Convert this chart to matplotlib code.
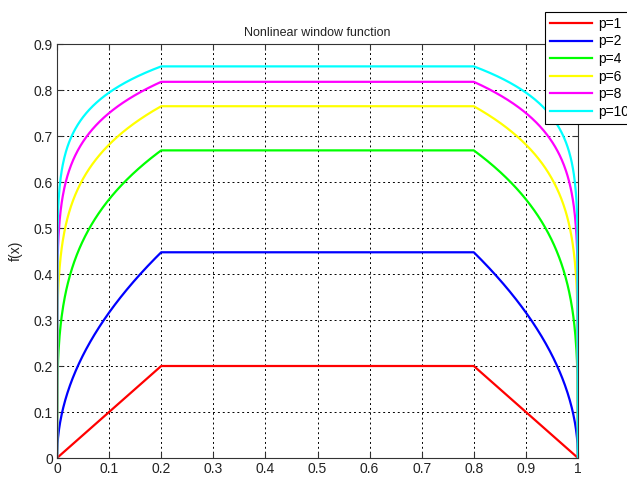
import numpy as np
import matplotlib
matplotlib.use("Agg")
import matplotlib.pyplot as plt

# Window shape parameters
exponents = [1, 2, 4, 6, 8, 10]
colors = ["#ff0000", "#0000ff", "#00ff00", "#ffff00", "#ff00ff", "#00ffff"]
labels = ["p=1", "p=2", "p=4", "p=6", "p=8", "p=10"]
ramp_end = 0.2      # end of rising edge
fall_start = 0.8    # start of falling edge
step = 0.001

xticks = [0, 0.1, 0.2, 0.3, 0.4, 0.5, 0.6, 0.7, 0.8, 0.9, 1]
xticklabels = ["0", "0.1", "0.2", "0.3", "0.4", "0.5", "0.6", "0.7", "0.8", "0.9", "1"]
yticks = [0, 0.1, 0.2, 0.3, 0.4, 0.5, 0.6, 0.7, 0.8, 0.9]
yticklabels = ["0", "0.1", "0.2", "0.3", "0.4", "0.5", "0.6", "0.7", "0.8", "0.9"]

plt.rcParams["font.family"] = ["Liberation Sans", "DejaVu Sans"]

fig = plt.figure(figsize=(6.27, 4.86), dpi=100)
ax = fig.add_axes([57 / 627, 1 - 458 / 486, (578 - 57) / 627, (458 - 44) / 486])

x = np.arange(0, 1 + step / 2, step)
for p, c, lab in zip(exponents, colors, labels):
    y = np.where(x < ramp_end, x,
                 np.where(x > fall_start, 1 - x, ramp_end))
    y = np.clip(y, 0, None) ** (1.0 / p)
    ax.plot(x, y, color=c, lw=1.6, label=lab)

ax.set_xlim(0, 1)
ax.set_ylim(0, 0.9)
ax.set_xticks(xticks)
ax.set_xticklabels(xticklabels)
ax.set_yticks(yticks)
ax.set_yticklabels(yticklabels)
ax.grid(True, color="black", linestyle=(0, (2, 3)), linewidth=0.7)
ax.tick_params(direction="in", top=True, right=True, length=4, width=0.8,
               labelsize=10, colors="#333333", labelcolor="#222222", pad=3)
for s in ax.spines.values():
    s.set_color("#333333")
    s.set_linewidth(0.8)

ax.set_title("Nonlinear window function", fontsize=9, color="#222222", pad=6)
ax.set_xlabel("x", fontsize=10, color="#222222", labelpad=5)
ax.set_ylabel("f(x)", fontsize=10, color="#222222", labelpad=8)

leg = ax.legend(loc="upper left", bbox_to_anchor=(545 / 627, 1 - 12 / 486),
                bbox_transform=fig.transFigure, fancybox=False, framealpha=1,
                edgecolor="black", fontsize=10, handlelength=3.0,
                handletextpad=0.5, labelspacing=0.26, borderpad=0.35,
                borderaxespad=0)
leg.get_frame().set_linewidth(0.8)

fig.savefig("out.png", dpi=100)
